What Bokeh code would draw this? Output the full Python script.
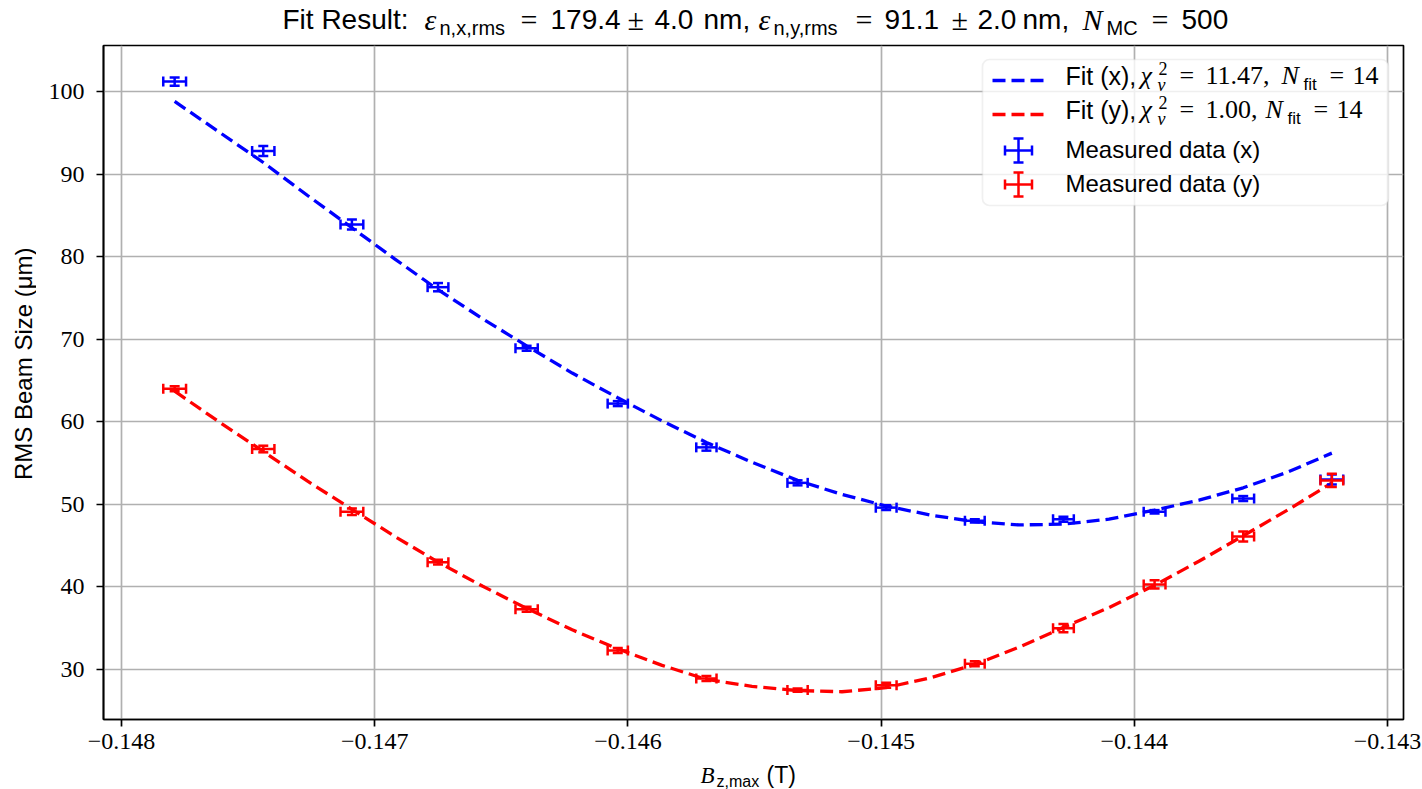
import math
from bokeh.plotting import figure
from bokeh.layouts import column, row
from bokeh.models import (Range1d, FixedTicker, Whisker, TeeHead, ColumnDataSource,
                          Label, BoxAnnotation, Arrow)
from bokeh.embed import file_html
from bokeh.resources import INLINE

# ---------------- data ----------------
bz = [-0.14779, -0.14744, -0.14709, -0.14675, -0.14640, -0.14604, -0.14569,
      -0.14533, -0.14498, -0.14463, -0.14428, -0.14392, -0.14357, -0.14322]
bz_err = [0.000045, 0.000044, 0.000045, 0.000041, 0.000044, 0.000040, 0.000040,
          0.000040, 0.000041, 0.000039, 0.000041, 0.000043, 0.000043, 0.000045]

sigma_x = [101.2, 92.8, 83.9, 76.3, 68.9, 62.2, 56.9, 52.6, 49.6, 48.0, 48.2, 49.1, 50.7, 53.0]
sigma_x_err = [0.5, 0.6, 0.6, 0.5, 0.3, 0.3, 0.4, 0.3, 0.3, 0.2, 0.3, 0.2, 0.3, 0.6]
sigma_y = [64.0, 56.7, 49.1, 43.0, 37.3, 32.3, 28.9, 27.5, 28.1, 30.7, 35.0, 40.3, 46.1, 52.9]
sigma_y_err = [0.3, 0.4, 0.4, 0.3, 0.3, 0.3, 0.3, 0.2, 0.3, 0.3, 0.5, 0.5, 0.6, 0.8]

fit_bz = [-0.14779, -0.147615, -0.14744, -0.147265, -0.14709, -0.14692, -0.14675,
          -0.146575, -0.14640, -0.14622, -0.14604, -0.145865, -0.14569, -0.14551,
          -0.14533, -0.145155, -0.14498, -0.144805, -0.14463, -0.144455, -0.14428,
          -0.14410, -0.14392, -0.143745, -0.14357, -0.143395, -0.14322]
fit_x = [98.8, 95.1, 91.4, 87.4, 83.5, 79.7, 76.0, 72.5, 69.2, 65.9, 62.9, 60.1, 57.5,
         55.1, 52.9, 51.2, 49.8, 48.7, 47.9, 47.5, 47.6, 48.2, 49.3, 50.5, 52.0, 53.9, 56.2]
fit_y = [63.7, 60.0, 56.4, 52.8, 49.4, 46.1, 43.0, 40.1, 37.4, 34.8, 32.5, 30.5, 28.8,
         27.95, 27.45, 27.3, 27.8, 29.0, 30.6, 32.7, 35.1, 37.5, 40.2, 43.1, 46.2, 49.3, 52.6]

x_ticks = [-0.148, -0.147, -0.146, -0.145, -0.144, -0.143]
x_tick_labels = ["\u22120.148", "\u22120.147", "\u22120.146", "\u22120.145", "\u22120.144", "\u22120.143"]
y_ticks = [30, 40, 50, 60, 70, 80, 90, 100]

# ---------------- geometry (page pixels) ----------------
W, H = 1422, 789
TOP_H = 43          # title strip
BOT_H = 28          # x-label strip
LEFT_W = 36         # y-label strip
MAIN_W = W - LEFT_W
MAIN_H = H - TOP_H - BOT_H
FL, FR, FT, FB = 103, 1403, 45, 719
X0, X1 = -0.148071, -0.142937
Y0, Y1 = 23.94, 105.57


def dx(px):
    return X0 + (px - FL) / (FR - FL) * (X1 - X0)


def dy(py):
    return Y1 - (py - FT) / (FB - FT) * (Y1 - Y0)


SANS = "Liberation Sans"
SERIF = "Liberation Serif"

p = figure(width=MAIN_W, height=MAIN_H, output_backend="svg", toolbar_location=None,
           title=None, x_range=Range1d(X0, X1), y_range=Range1d(Y0, Y1),
           min_border_left=FL - LEFT_W, min_border_right=W - FR,
           min_border_top=FT - TOP_H, min_border_bottom=MAIN_H - (FB - TOP_H))
p.background_fill_color = "white"
p.border_fill_color = "white"
p.outline_line_color = "black"
p.outline_line_width = 1.7
p.outline_line_alpha = 1.0

p.xaxis.ticker = FixedTicker(ticks=x_ticks)
p.yaxis.ticker = FixedTicker(ticks=y_ticks)
p.xaxis.major_label_overrides = {t: s for t, s in zip(x_ticks, x_tick_labels)}
for ax in (p.xaxis, p.yaxis):
    ax.axis_line_color = "black"
    ax.axis_line_width = 1.7
    ax.major_tick_out = 7
    ax.major_tick_in = 0
    ax.minor_tick_out = 0
    ax.minor_tick_in = 0
    ax.major_tick_line_width = 1.7
    ax.major_tick_line_color = "black"
    ax.major_label_text_font = SERIF
    ax.major_label_text_font_size = "24px"
    ax.major_label_text_color = "black"
p.xaxis.major_label_standoff = 7
p.yaxis.major_label_standoff = 12

for g in (p.xgrid, p.ygrid):
    g.grid_line_color = "#b0b0b0"
    g.grid_line_width = 1.7

# ---------------- fit curves ----------------
p.line(fit_bz, fit_x, line_color="blue", line_width=3.3, line_dash="13 6")
p.line(fit_bz, fit_y, line_color="red", line_width=3.3, line_dash="13 6")


# ---------------- error bars ----------------
def whiskers(src, color):
    for base, lo, up, dim in (("y", "xl", "xu", "width"), ("x", "yl", "yu", "height")):
        p.add_layout(Whisker(source=src, base=base, lower=lo, upper=up, dimension=dim,
                             line_color=color, line_width=2.5, level="annotation",
                             lower_head=TeeHead(size=10, line_color=color, line_width=2.5),
                             upper_head=TeeHead(size=10, line_color=color, line_width=2.5)))


def add_errorbars(xs, xe, ys, ye, color):
    src = ColumnDataSource(dict(
        x=xs, y=ys,
        xl=[a - b for a, b in zip(xs, xe)], xu=[a + b for a, b in zip(xs, xe)],
        yl=[a - b for a, b in zip(ys, ye)], yu=[a + b for a, b in zip(ys, ye)]))
    whiskers(src, color)


add_errorbars(bz, bz_err, sigma_x, sigma_x_err, "blue")
add_errorbars(bz, bz_err, sigma_y, sigma_y_err, "red")


# ---------------- text helper: y given as the text baseline (page px) ----------------
def txt(fig, s, x, ybase, font=SANS, size=24, style="normal", align="left",
        angle=0.0, conv=None):
    ymid = ybase - 0.35 * size
    xx, yy = (conv(x, ymid) if conv else (x, ymid))
    fig.add_layout(Label(x=xx, y=yy, text=s, text_font=font,
                         text_font_size=f"{size}px", text_font_style=style,
                         text_color="black", text_align=align, text_baseline="middle",
                         angle=angle, level="annotation"))


def mtxt(s, px, py, *a, **k):
    txt(p, s, px, py, *a, conv=lambda u, v: (dx(u), dy(v)), **k)


# ---------------- legend ----------------
p.add_layout(BoxAnnotation(left=dx(982), right=dx(1388), top=dy(59), bottom=dy(205),
                           fill_color="white", fill_alpha=0.8, line_color="#cccccc",
                           line_width=1.7, border_radius=7, level="annotation"))
for color, py in (("blue", 80), ("red", 114)):
    p.add_layout(Arrow(x_start=dx(992), y_start=dy(py), x_end=dx(1043), y_end=dy(py),
                       end=None, start=None, line_color=color, line_width=3.3,
                       line_dash="13 6", level="annotation"))
for color, py in (("blue", 150), ("red", 184)):
    hs = ColumnDataSource(dict(x=[dx(1018)], y=[dy(py)], xl=[dx(1004.5)], xu=[dx(1031.5)],
                               yl=[dy(py + 12)], yu=[dy(py - 12)]))
    whiskers(hs, color)

LM = 26  # legend math size
# row 1
mtxt("Fit (x),", 1065, 84, SANS, 25)
mtxt("\u03c7", 1140, 84, SERIF, LM, "italic")
mtxt("2", 1158, 74, SERIF, 18)
mtxt("\u03bd", 1157, 91, SERIF, 18, "italic")
mtxt("=", 1179, 84, SERIF, LM)
mtxt("11.47,", 1205, 84, SERIF, LM)
mtxt("N", 1281, 84, SERIF, LM, "italic")
mtxt("fit", 1303, 90, SANS, 17)
mtxt("=", 1329, 84, SERIF, LM)
mtxt("14", 1352, 84, SERIF, LM)
# row 2
mtxt("Fit (y),", 1065, 118, SANS, 25)
mtxt("\u03c7", 1140, 118, SERIF, LM, "italic")
mtxt("2", 1158, 108, SERIF, 18)
mtxt("\u03bd", 1157, 125, SERIF, 18, "italic")
mtxt("=", 1179, 118, SERIF, LM)
mtxt("1.00,", 1205, 118, SERIF, LM)
mtxt("N", 1265, 118, SERIF, LM, "italic")
mtxt("fit", 1287, 124, SANS, 17)
mtxt("=", 1313, 118, SERIF, LM)
mtxt("14", 1336, 118, SERIF, LM)
# rows 3-4
mtxt("Measured data (x)", 1065, 157, SANS, 24)
mtxt("Measured data (y)", 1065, 191, SANS, 24)


# ---------------- strips for title and axis labels ----------------
def strip(w, h):
    f = figure(width=w, height=h, output_backend="svg", toolbar_location=None, title=None,
               x_range=Range1d(0, w), y_range=Range1d(h, 0),
               x_axis_type=None, y_axis_type=None,
               min_border_left=0, min_border_right=0, min_border_top=0, min_border_bottom=0)
    f.grid.visible = False
    f.outline_line_color = None
    f.background_fill_color = "white"
    f.border_fill_color = "white"
    return f


tf = strip(W, TOP_H)
TB, SB = 29, 34
title_pieces = [
    ("Fit Result:", 282, TB, SANS, 28, "normal"),
    ("\u03b5", 424, TB, SERIF, 30, "italic"),
    ("n,x,rms", 439, SB, SANS, 20, "normal"),
    ("=", 520, TB, SERIF, 30, "normal"),
    ("179.4", 550, TB, SANS, 28, "normal"),
    ("\u00b1", 627, TB, SERIF, 30, "normal"),
    ("4.0", 654, TB, SANS, 28, "normal"),
    ("nm,", 703, TB, SANS, 28, "normal"),
    ("\u03b5", 758, TB, SERIF, 30, "italic"),
    ("n,y,rms", 773, SB, SANS, 20, "normal"),
    ("=", 855, TB, SERIF, 30, "normal"),
    ("91.1", 884, TB, SANS, 28, "normal"),
    ("\u00b1", 951, TB, SERIF, 30, "normal"),
    ("2.0", 977, TB, SANS, 28, "normal"),
    ("nm,", 1022, TB, SANS, 28, "normal"),
    ("N", 1082, TB, SERIF, 30, "italic"),
    ("MC", 1106, SB, SANS, 20, "normal"),
    ("=", 1151, TB, SERIF, 30, "normal"),
    ("500", 1181, TB, SANS, 28, "normal"),
]
for s, x, y, font, size, style in title_pieces:
    txt(tf, s, x, y, font, size, style)

bf = strip(W, BOT_H)
BOT0 = H - BOT_H
txt(bf, "B", 700, 783 - BOT0, SERIF, 23, "italic")
txt(bf, "z,max", 716, 787 - BOT0, SANS, 16)
txt(bf, "(T)", 766, 783 - BOT0, SANS, 23)

lf = strip(LEFT_W, MAIN_H)
lf.add_layout(Label(x=23, y=382 - TOP_H, text="RMS Beam Size (\u03bcm)", text_font=SANS,
                    text_font_size="24px", text_color="black", text_align="center",
                    text_baseline="middle", angle=math.pi / 2, level="annotation"))

layout = column(tf, row(lf, p, spacing=0), bf, spacing=0)
open("out.html", "w").write(file_html(layout, INLINE))
